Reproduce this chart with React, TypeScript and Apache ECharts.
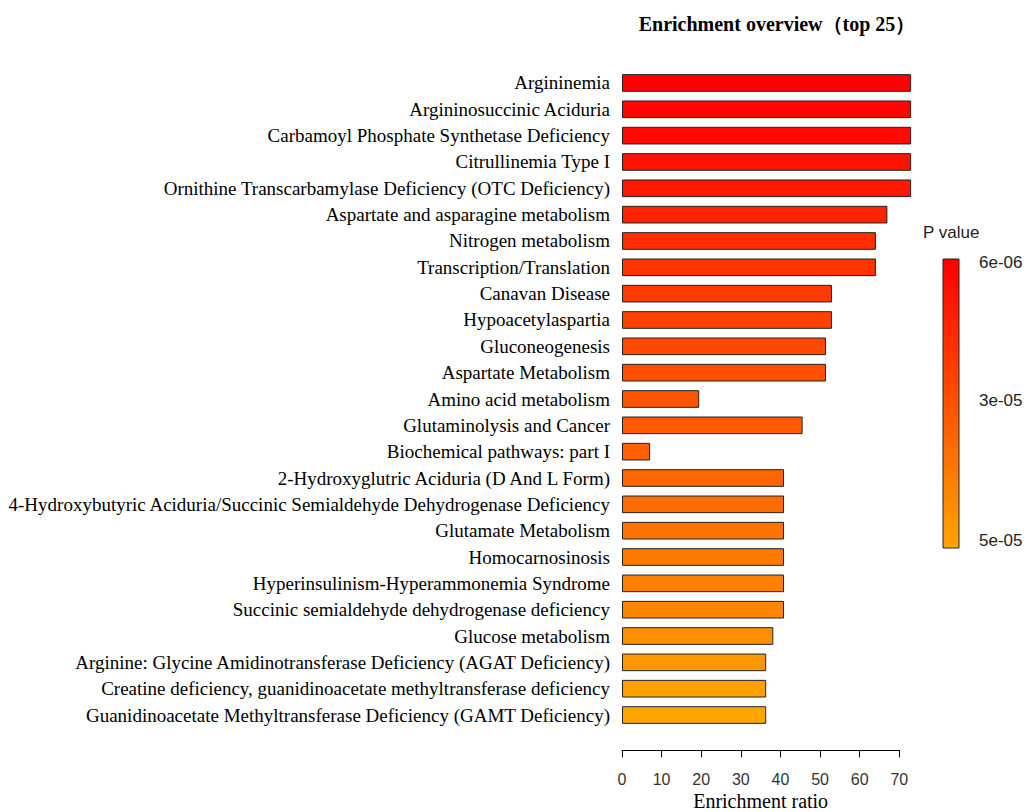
import React, { useEffect, useRef } from "react";
import * as echarts from "echarts";

const categories = [
  "Argininemia",
  "Argininosuccinic Aciduria",
  "Carbamoyl Phosphate Synthetase Deficiency",
  "Citrullinemia Type I",
  "Ornithine Transcarbamylase Deficiency (OTC Deficiency)",
  "Aspartate and asparagine metabolism",
  "Nitrogen metabolism",
  "Transcription/Translation",
  "Canavan Disease",
  "Hypoacetylaspartia",
  "Gluconeogenesis",
  "Aspartate Metabolism",
  "Amino acid metabolism",
  "Glutaminolysis and Cancer",
  "Biochemical pathways: part I",
  "2-Hydroxyglutric Aciduria (D And L Form)",
  "4-Hydroxybutyric Aciduria/Succinic Semialdehyde Dehydrogenase Deficiency",
  "Glutamate Metabolism",
  "Homocarnosinosis",
  "Hyperinsulinism-Hyperammonemia Syndrome",
  "Succinic semialdehyde dehydrogenase deficiency",
  "Glucose metabolism",
  "Arginine: Glycine Amidinotransferase Deficiency (AGAT Deficiency)",
  "Creatine deficiency, guanidinoacetate methyltransferase deficiency",
  "Guanidinoacetate Methyltransferase Deficiency (GAMT Deficiency)",
];

const enrichmentRatio = [
  73.0, 73.0, 73.0, 73.0, 73.0, 67.0, 64.1, 64.1, 53.0, 53.0, 51.5, 51.5, 19.5,
  45.6, 7.1, 40.9, 40.9, 40.9, 40.9, 40.9, 40.9, 38.2, 36.4, 36.4, 36.4,
];

const pValues = [
  6.0e-6, 7.3e-6, 8.7e-6, 1.08e-5, 1.27e-5, 1.53e-5, 1.8e-5, 1.99e-5, 2.2e-5,
  2.33e-5, 2.52e-5, 2.68e-5, 2.87e-5, 3.0e-5, 3.16e-5, 3.32e-5, 3.48e-5,
  3.67e-5, 3.85e-5, 4.01e-5, 4.2e-5, 4.41e-5, 4.65e-5, 4.87e-5, 5.0e-5,
];

const xTicks = [0, 10, 20, 30, 40, 50, 60, 70];
const legendLabels = ["6e-06", "3e-05", "5e-05"];
const pMin = 6e-6;
const pMax = 5e-5;

const SERIF = "'Liberation Serif', 'Times New Roman', serif";
const SANS = "'Liberation Sans', Arial, sans-serif";

export default function App() {
  const ref = useRef<HTMLDivElement>(null);

  useEffect(() => {
    if (!ref.current) return;
    const chart = echarts.init(ref.current, undefined, { renderer: "svg" });
    const pxPerUnit = 3.961;
    const barLeft = 622;
    const barTop = 69.8;
    const barHeight = 658.4;

    const cbX = 943;
    const cbY = 259;
    const cbW = 16;
    const cbH = 289;

    chart.setOption({
      animation: false,
      backgroundColor: "#ffffff",
      title: {
        text: "Enrichment overview（top 25）",
        left: 772,
        top: 9,
        textAlign: "center",
        textStyle: {
          fontFamily: SERIF,
          fontWeight: "bold",
          fontSize: 20,
          color: "#000",
        },
      },
      grid: [
        {
          left: barLeft,
          top: barTop,
          width: 80 * pxPerUnit,
          height: barHeight,
          containLabel: false,
        },
        {
          left: barLeft,
          top: 750,
          width: xTicks[xTicks.length - 1] * pxPerUnit,
          height: 1,
          containLabel: false,
        },
      ],
      xAxis: [
        {
          gridIndex: 0,
          type: "value",
          min: 0,
          max: 80,
          show: false,
        },
        {
          gridIndex: 1,
          type: "value",
          min: xTicks[0],
          max: xTicks[xTicks.length - 1],
          interval: 10,
          position: "bottom",
          axisLine: { show: true, lineStyle: { color: "#000", width: 1 } },
          axisTick: { show: true, length: 7, lineStyle: { color: "#000" } },
          splitLine: { show: false },
          axisLabel: {
            margin: 21,
            fontFamily: SANS,
            fontSize: 16,
            color: "#333",
          },
          name: "Enrichment ratio",
          nameLocation: "middle",
          nameGap: 41,
          nameTextStyle: { fontFamily: SERIF, fontSize: 20, color: "#000" },
        },
      ],
      yAxis: [
        {
          gridIndex: 0,
          type: "category",
          data: categories,
          inverse: true,
          axisLine: { show: false },
          axisTick: { show: false },
          splitLine: { show: false },
          axisLabel: {
            margin: 12,
            fontFamily: SERIF,
            fontSize: 19,
            color: "#000",
          },
        },
        {
          gridIndex: 1,
          type: "value",
          show: false,
        },
      ],
      visualMap: {
        type: "continuous",
        show: false,
        seriesIndex: 0,
        dimension: 2,
        min: pMin,
        max: pMax,
        inRange: { color: ["#FF0000", "#FFA500"] },
      },
      series: [
        {
          type: "bar",
          xAxisIndex: 0,
          yAxisIndex: 0,
          encode: { x: 0, y: 1 },
          barCategoryGap: "33%",
          itemStyle: { borderColor: "#222", borderWidth: 1 },
          data: enrichmentRatio.map((v, i) => [v, i, pValues[i]]),
        },
      ],
      graphic: [
        {
          type: "text",
          x: 923,
          y: 232,
          style: {
            text: "P value",
            fontFamily: SANS,
            fontSize: 17,
            fill: "#222",
            verticalAlign: "middle",
          },
        },
        {
          type: "rect",
          shape: { x: cbX, y: cbY, width: cbW, height: cbH },
          style: {
            fill: new echarts.graphic.LinearGradient(0, 0, 0, 1, [
              { offset: 0, color: "#FF0000" },
              { offset: 1, color: "#FFA500" },
            ]),
            stroke: "#222",
            lineWidth: 1,
          },
        },
        ...legendLabels.map((t, i) => ({
          type: "text",
          x: 979,
          y: [262, 400, 540][i],
          style: {
            text: t,
            fontFamily: SANS,
            fontSize: 17,
            fill: "#222",
            verticalAlign: "middle",
          },
        })),
      ],
    });
    return () => chart.dispose();
  }, []);

  return (
    <div
      ref={ref}
      style={{ position: "fixed", left: 0, top: 0, width: 1026, height: 812, background: "#fff" }}
    />
  );
}
